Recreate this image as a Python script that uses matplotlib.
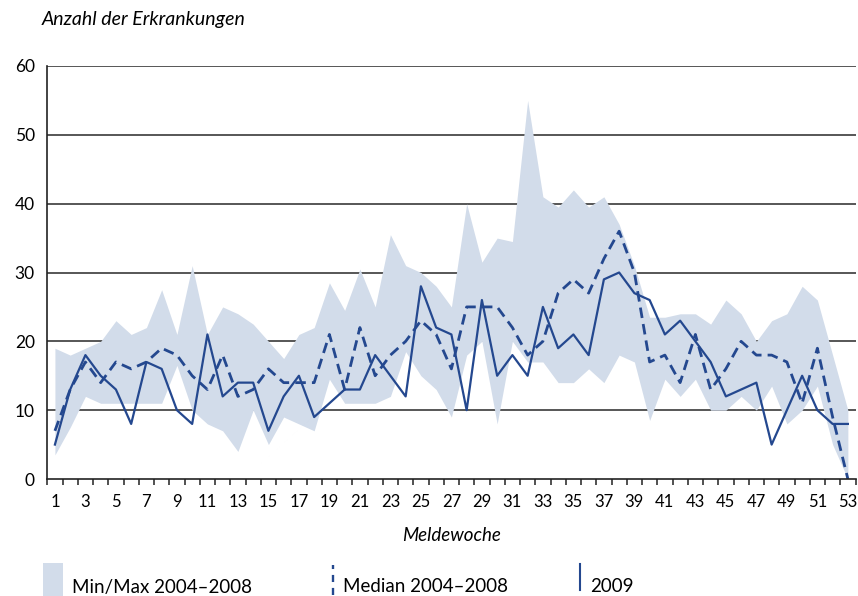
import matplotlib
matplotlib.use("Agg")
import matplotlib.pyplot as plt
from matplotlib.lines import Line2D
from matplotlib.patches import Rectangle
import numpy as np

plt.rcParams['font.family'] = ['Lato', 'DejaVu Sans']

weeks = list(range(1, 54))

cases_2009 = [5, 13, 18, 15, 13, 8, 17, 16, 10, 8, 21, 12, 14, 14, 7, 12, 15, 9, 11, 13,
              13, 18, 15, 12, 28, 22, 21, 10, 26, 15, 18, 15, 25, 19, 21, 18, 29, 30, 27, 26,
              21, 23, 20, 17, 12, 13, 14, 5, 10, 15, 10, 8, 8]

median_0408 = [7, 13, 17, 14, 17, 16, 17, 19, 18, 15, 13, 18, 12, 13, 16, 14, 14, 14, 21, 13,
               22, 15, 18, 20, 23, 21, 16, 25, 25, 25, 22, 18, 20, 27, 29, 27, 32, 36, 30, 17,
               18, 14, 21, 13, 16, 20, 18, 18, 17, 11, 19, 9, 0]

max_0408 = [19, 18, 19, 20, 23, 21, 22, 27.5, 21, 31, 21, 25, 24, 22.5, 20, 17.5, 21, 22, 28.5, 24.5,
            30.5, 25, 35.5, 31, 30, 28, 25, 40, 31.5, 35, 34.5, 55, 41, 39.5, 42, 39.5, 41, 37, 31, 23.5,
            23.5, 24, 24, 22.5, 26, 24, 20, 23, 24, 28, 26, 18, 10]

min_0408 = [3.5, 7.5, 12, 11, 11, 11, 11, 11, 16.5, 10, 8, 7, 4, 10, 5, 9, 8, 7, 14.5, 11,
            11, 11, 12, 18.5, 15, 13, 9, 18, 20, 8, 20, 17, 17, 14, 14, 16, 14, 18, 17, 8.5,
            14.5, 12, 14.5, 10, 10, 12, 10, 13.5, 8, 10, 13.5, 5, 0]

y_ticks = [0, 10, 20, 30, 40, 50, 60]
x_labels = list(range(1, 54, 2))

line_col = '#24488f'
band_col = '#d2dcea'
grid_col = '#3a3a3a'

W, H = 858, 596
fig = plt.figure(figsize=(W / 100, H / 100), dpi=100)
ax = fig.add_axes([47.3 / W, (H - 479) / H, (855.5 - 47.3) / W, (479 - 66) / H])

ax.set_xlim(0.5, 53.5)
ax.set_ylim(0, 60)

for yv in y_ticks[1:]:
    ax.axhline(yv, color=grid_col, lw=1.2, zorder=1)

ax.fill_between(weeks, min_0408, max_0408, color=band_col, lw=0, zorder=2)
ax.plot(weeks, median_0408, color=line_col, lw=2.0, dashes=(3.8, 2.2), zorder=3)
ax.plot(weeks, cases_2009, color=line_col, lw=1.6, zorder=4)

for s in ['top', 'right']:
    ax.spines[s].set_visible(False)
for s in ['left', 'bottom']:
    ax.spines[s].set_color('#222222')
    ax.spines[s].set_linewidth(1.2)
ax.spines['bottom'].set_zorder(5)

ax.set_yticks(y_ticks)
ax.set_yticklabels([str(v) for v in y_ticks], fontsize=12.5)
ax.tick_params(axis='y', length=0, pad=9)

ax.set_xticks(x_labels)
ax.set_xticklabels([str(v) for v in x_labels], fontsize=12)
ax.set_xticks(np.arange(0.5, 54, 1.0), minor=True)
ax.tick_params(axis='x', which='major', length=0, pad=11)
ax.tick_params(axis='x', which='minor', length=4.5, width=1.1, color='#222222', direction='out')

ax.set_xlabel('Meldewoche', fontsize=13.5, style='italic', labelpad=12)
fig.text(42 / W, 1 - 20 / H, 'Anzahl der Erkrankungen', fontsize=14, style='italic',
         ha='left', va='center')

# legend
fig.patches.append(Rectangle((43 / W, 0), 20 / W, 33 / H, transform=fig.transFigure,
                             color=band_col, lw=0))
fig.text(72 / W, 9 / H, 'Min/Max 2004–2008', fontsize=13.5, ha='left', va='center')
fig.lines.append(Line2D([333 / W, 333 / W], [1 / H, 31 / H], transform=fig.transFigure,
                        color=line_col, lw=1.7, dashes=(3, 2.5)))
fig.text(343 / W, 9 / H, 'Median 2004–2008', fontsize=13.5, ha='left', va='center')
fig.lines.append(Line2D([580 / W, 580 / W], [6 / H, 32 / H], transform=fig.transFigure,
                        color=line_col, lw=1.5))
fig.text(590 / W, 9 / H, '2009', fontsize=13.5, ha='left', va='center')

fig.savefig('out.png', dpi=100)
